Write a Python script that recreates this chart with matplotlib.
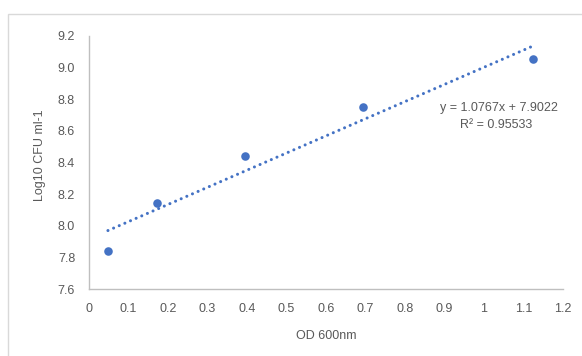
"""OD600 vs log10 CFU calibration scatter with linear trendline."""

import matplotlib

matplotlib.use("Agg")
import matplotlib.pyplot as plt
import numpy as np

# values
od600 = [0.048, 0.172, 0.395, 0.694, 1.124]
log_cfu = [7.84, 8.142, 8.441, 8.75, 9.054]
x_ticks = [0, 0.1, 0.2, 0.3, 0.4, 0.5, 0.6, 0.7, 0.8, 0.9, 1, 1.1, 1.2]
x_tick_labels = ["0", "0.1", "0.2", "0.3", "0.4", "0.5", "0.6", "0.7", "0.8", "0.9", "1", "1.1", "1.2"]
y_ticks = [7.6, 7.8, 8.0, 8.2, 8.4, 8.6, 8.8, 9.0, 9.2]
eq_text = "y = 1.0767x + 7.9022"
r2_text = "R² = 0.95533"

blue = "#4472C4"
grey = "#595959"
axis_grey = "#BFBFBF"

plt.rcParams["font.family"] = ["Liberation Sans", "DejaVu Sans"]

fig = plt.figure(figsize=(5.82, 3.56), dpi=100)
ax = fig.add_axes([0.1529, 0.1882, 0.8145, 0.7107])

ax.scatter(od600, log_cfu, s=38, color=blue, zorder=3, linewidths=0)

# linear trendline over the data range
slope, intercept = np.polyfit(od600, log_cfu, 1)
xs = np.array([min(od600), max(od600)])
ax.plot(xs, slope * xs + intercept, color=blue, lw=2.2,
        linestyle=(0, (0.01, 2.0)), dash_capstyle="round", zorder=2)

ax.set_xlim(0, 1.2)
ax.set_ylim(7.6, 9.2)
ax.set_xticks(x_ticks, x_tick_labels)
ax.set_yticks(y_ticks, [f"{v:.1f}" for v in y_ticks])
ax.tick_params(length=0, labelsize=9, colors=grey, pad=10)

for side in ("top", "right"):
    ax.spines[side].set_visible(False)
for side in ("left", "bottom"):
    ax.spines[side].set_color(axis_grey)
    ax.spines[side].set_linewidth(1.0)

ax.set_xlabel("OD 600nm", fontsize=9, color=grey, labelpad=11)
ax.set_ylabel("Log10 CFU ml-1", fontsize=9, color=grey, labelpad=12)
ax.yaxis.set_label_coords(-0.09, 0.53)

ax.text(0.99, 0.715, eq_text, transform=ax.transAxes, fontsize=9, color=grey, ha="right", va="center")
ax.text(0.935, 0.648, r2_text, transform=ax.transAxes, fontsize=9, color=grey, ha="right", va="center")

# chart-area border (only top and left edges are inside the image)
border = plt.Rectangle((8 / 582, -0.05), 1.2, 1 - 14 / 356 + 0.05, transform=fig.transFigure,
                       fill=False, edgecolor="#D9D9D9", lw=1.0)
fig.add_artist(border)

fig.savefig("out.png", dpi=100, facecolor="white")
